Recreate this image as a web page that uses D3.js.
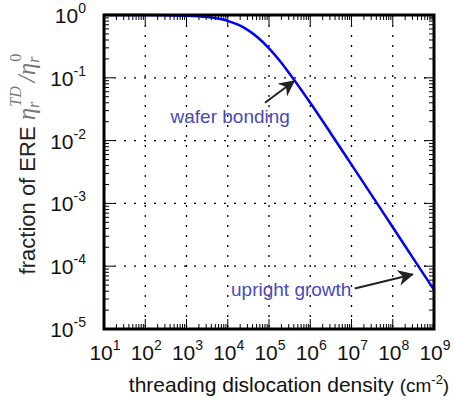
<!DOCTYPE html>
<html>
<head>
<meta charset="utf-8">
<script src="https://cdn.jsdelivr.net/npm/d3@7"></script>
<style>
  body { margin: 0; background: #fff; }
  svg { font-family: "Liberation Sans", Arial, sans-serif; }
</style>
</head>
<body>
<div class="viz"></div>
<script>
const width = 454;
const height = 406;
const margin = { top: 15, right: 20, bottom: 77, left: 104 };

// threading dislocation density (cm^-2) and fraction of ERE
const density = [1e1, 1e2, 1e3, 3.16e3, 1e4, 1.78e4, 3.16e4, 5.62e4, 1e5, 1.78e5, 3.16e5, 5.62e5, 1e6, 3.16e6, 1e7, 3.16e7, 1e8, 3.16e8, 1e9];
const fraction = [1.0, 0.998, 0.976, 0.93, 0.807, 0.70, 0.569, 0.426, 0.294, 0.19, 0.116, 0.069, 0.040, 0.013, 4.15e-3, 1.32e-3, 4.17e-4, 1.32e-4, 4.2e-5];

const xExponents = [1, 2, 3, 4, 5, 6, 7, 8, 9];
const yExponents = [0, -1, -2, -3, -4, -5];

const annotations = [
  { label: "wafer bonding", tx: 4.1e2, ty: 0.019, from: [8e4, 0.040], to: [4.0e5, 0.088] },
  { label: "upright growth", tx: 1.2e4, ty: 3.3e-5, from: [1.2e7, 4.4e-5], to: [3.0e8, 7.4e-5] }
];

const svg = d3.select(".viz").append("svg")
  .attr("width", width)
  .attr("height", height);

const x = d3.scaleLog().domain([1e1, 1e9]).range([margin.left, width - margin.right]);
const y = d3.scaleLog().domain([1e-5, 1]).range([height - margin.bottom, margin.top]);

const x0 = margin.left, x1 = width - margin.right;
const y0 = height - margin.bottom, y1 = margin.top;

// dotted grid at each decade
const grid = svg.append("g").attr("class", "grid")
  .attr("stroke", "#000").attr("stroke-width", 1.3)
  .attr("stroke-dasharray", "2,8");
grid.selectAll("line.gx")
  .data(xExponents.slice(1, -1))
  .join("line")
  .attr("class", "gx")
  .attr("x1", (d) => x(Math.pow(10, d)))
  .attr("x2", (d) => x(Math.pow(10, d)))
  .attr("y1", y1).attr("y2", y0);
grid.selectAll("line.gy")
  .data(yExponents.slice(1, -1))
  .join("line")
  .attr("class", "gy")
  .attr("x1", x0).attr("x2", x1)
  .attr("y1", (d) => y(Math.pow(10, d)))
  .attr("y2", (d) => y(Math.pow(10, d)));

// ticks (inside, all four sides)
const xTicks = x.ticks(80).filter((t) => t >= 10 && t <= 1e9);
const yTicks = y.ticks(60).filter((t) => t >= 1e-5 && t <= 1);
const isMajor = (t) => Math.abs(Math.log10(t) - Math.round(Math.log10(t))) < 1e-6;

const ticks = svg.append("g").attr("class", "ticks").attr("stroke", "#000").attr("stroke-width", 1);
ticks.selectAll("line.xb").data(xTicks).join("line").attr("class", "xb")
  .attr("x1", (d) => x(d)).attr("x2", (d) => x(d))
  .attr("y1", y0).attr("y2", (d) => y0 - (isMajor(d) ? 10 : 5));
ticks.selectAll("line.xt").data(xTicks).join("line").attr("class", "xt")
  .attr("x1", (d) => x(d)).attr("x2", (d) => x(d))
  .attr("y1", y1).attr("y2", (d) => y1 + (isMajor(d) ? 10 : 5));
ticks.selectAll("line.yl").data(yTicks).join("line").attr("class", "yl")
  .attr("y1", (d) => y(d)).attr("y2", (d) => y(d))
  .attr("x1", x0).attr("x2", (d) => x0 + (isMajor(d) ? 10 : 5));
ticks.selectAll("line.yr").data(yTicks).join("line").attr("class", "yr")
  .attr("y1", (d) => y(d)).attr("y2", (d) => y(d))
  .attr("x1", x1).attr("x2", (d) => x1 - (isMajor(d) ? 10 : 5));

// curve
const line = d3.line()
  .x((d, i) => x(density[i]))
  .y((d) => y(d))
  .curve(d3.curveMonotoneX);

svg.append("path")
  .datum(fraction)
  .attr("d", line)
  .attr("fill", "none")
  .attr("stroke", "#0000ff")
  .attr("stroke-width", 2.5);

// frame
svg.append("rect")
  .attr("x", x0).attr("y", y1)
  .attr("width", x1 - x0).attr("height", y0 - y1)
  .attr("fill", "none").attr("stroke", "#000").attr("stroke-width", 3);

// tick labels
svg.append("g").selectAll("text")
  .data(xExponents)
  .join("text")
  .attr("x", (d) => x(Math.pow(10, d)) + 1)
  .attr("y", y0 + 31)
  .attr("text-anchor", "middle")
  .attr("font-size", 21)
  .attr("fill", "#111")
  .html((d) => `10<tspan font-size="14" dy="-10">${d}</tspan>`);

svg.append("g").selectAll("text")
  .data(yExponents)
  .join("text")
  .attr("x", x0 - 18)
  .attr("y", (d) => y(Math.pow(10, d)) + 8)
  .attr("text-anchor", "end")
  .attr("font-size", 21)
  .attr("fill", "#111")
  .html((d) => `10<tspan font-size="14" dy="-10">${d}</tspan>`);

// axis titles
svg.append("text")
  .attr("x", 289)
  .attr("y", 392)
  .attr("text-anchor", "middle")
  .attr("font-size", 21)
  .attr("fill", "#111")
  .html(`threading dislocation density <tspan font-size="19">(cm</tspan><tspan font-size="13" dy="-8">-2</tspan><tspan font-size="19" dy="8">)</tspan>`);

const mathAttrs = `font-family="Liberation Serif" font-style="italic" fill="#777"`;
svg.append("text")
  .attr("transform", `translate(35, 164) rotate(-90)`)
  .attr("text-anchor", "middle")
  .attr("font-size", 22)
  .attr("fill", "#222")
  .html(`fraction of ERE <tspan ${mathAttrs} font-size="25">η</tspan><tspan ${mathAttrs} font-size="16" dy="4">r</tspan><tspan ${mathAttrs} font-size="16" dx="-5" dy="-18">TD</tspan><tspan ${mathAttrs} font-size="25" dx="4" dy="14">/η</tspan><tspan ${mathAttrs} font-size="16" dy="4">r</tspan><tspan font-family="Liberation Serif" fill="#777" font-size="16" dx="-5" dy="-18">0</tspan>`);

// annotations
svg.append("defs").append("marker")
  .attr("id", "arrow")
  .attr("viewBox", "0 0 10 10")
  .attr("refX", 9).attr("refY", 5)
  .attr("markerWidth", 16).attr("markerHeight", 16)
  .attr("markerUnits", "userSpaceOnUse")
  .attr("orient", "auto")
  .append("path")
  .attr("d", "M0,0 L10,5 L0,10 L3,5 Z")
  .attr("fill", "#222");

const ann = svg.append("g").selectAll("g").data(annotations).join("g");
ann.append("text")
  .attr("x", (d) => x(d.tx))
  .attr("y", (d) => y(d.ty))
  .attr("font-size", 19)
  .attr("fill", "#4a4ab4")
  .text((d) => d.label);
ann.append("line")
  .attr("x1", (d) => x(d.from[0])).attr("y1", (d) => y(d.from[1]))
  .attr("x2", (d) => x(d.to[0])).attr("y2", (d) => y(d.to[1]))
  .attr("stroke", "#222").attr("stroke-width", 2)
  .attr("marker-end", "url(#arrow)");
</script>
</body>
</html>
